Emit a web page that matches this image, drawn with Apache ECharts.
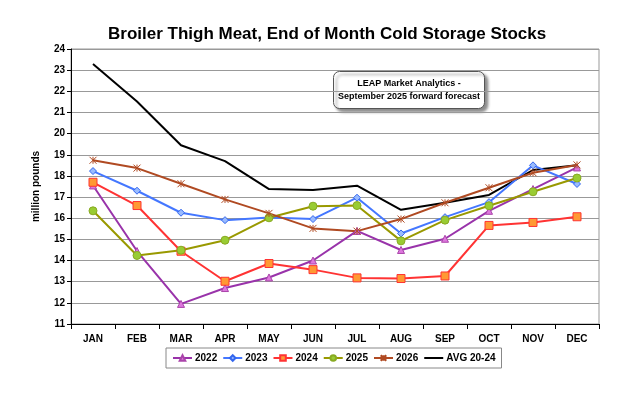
<!DOCTYPE html>
<html><head><meta charset="utf-8">
<script src="https://cdn.jsdelivr.net/npm/echarts@6/dist/echarts.min.js"></script>
<style>html,body{margin:0;padding:0;background:#fff}#c{width:636px;height:394px}</style>
</head><body><div id="c"></div>
<script>
const months = ['JAN','FEB','MAR','APR','MAY','JUN','JUL','AUG','SEP','OCT','NOV','DEC'];
const s2022 = [17.55,14.45,11.95,12.7,13.2,14.0,15.4,14.5,15.03,16.35,17.38,18.4];
const s2023 = [18.23,17.3,16.26,15.91,16.04,15.96,16.97,15.28,16.05,16.76,18.5,17.62];
const s2024 = [17.7,16.6,14.44,13.02,13.86,13.57,13.18,13.15,13.27,15.66,15.8,16.07];
const s2025 = [16.35,14.24,14.49,14.96,16.02,16.57,16.6,14.93,15.91,16.59,17.25,17.9];
const s2026 = [18.74,18.37,17.63,16.89,16.23,15.52,15.39,15.96,16.73,17.44,18.15,18.52];
const avg = [23.29,21.52,19.45,18.7,17.38,17.33,17.54,16.4,16.73,17.1,18.28,18.5];

const F = 'Liberation Sans, Arial, sans-serif';
function mk(name, data, color, symbol, fill, border, size) {
  return {
    name, type:'line', data, symbol, symbolSize:size,
    lineStyle:{color, width:2},
    itemStyle:{color:fill, borderColor:border, borderWidth:1},
    emphasis:{disabled:true}, z: 3
  };
}
const chart = echarts.init(document.getElementById('c'), null, {renderer:'canvas'});
chart.setOption({
  animation:false,
  backgroundColor:'#fff',
  title:{text:'Broiler Thigh Meat, End of Month Cold Storage Stocks', left:103, top:21,
    textStyle:{fontFamily:F, fontSize:17, fontWeight:'bold', color:'#000'}},
  grid:{left:71, right:37, top:49, bottom:70, show:true, borderColor:'#999', borderWidth:1},
  xAxis:{type:'category', data:months, boundaryGap:true,
    axisLine:{lineStyle:{color:'#000'}},
    axisTick:{show:true, alignWithLabel:false, length:5, lineStyle:{color:'#000'}},
    axisLabel:{fontFamily:F, fontSize:10, fontWeight:'bold', color:'#000', margin:10}},
  yAxis:{type:'value', min:11, max:24, interval:1,
    name:'million pounds', nameLocation:'middle', nameGap:30, nameRotate:90,
    nameTextStyle:{fontFamily:F, fontSize:10, fontWeight:'bold', color:'#000'},
    axisLine:{show:true, lineStyle:{color:'#000'}},
    axisTick:{show:true, length:4, lineStyle:{color:'#000'}},
    axisLabel:{fontFamily:F, fontSize:10, fontWeight:'bold', color:'#000', margin:6},
    splitLine:{lineStyle:{color:'#999', width:1}}},
  legend:{bottom:26, left:166, itemWidth:19, itemHeight:7, itemGap:5,
    borderColor:'#888', borderWidth:1, padding:[5,6,5,6],
    textStyle:{fontFamily:F, fontSize:10, fontWeight:'bold', color:'#000', padding:[0,0,0,-2]},
    data:['2022','2023','2024','2025','2026',{name:'AVG 20-24', itemStyle:{opacity:0}}]},
  graphic:[{type:'group', left:333, top:71, children:[
    {type:'rect', shape:{x:0, y:0, width:151, height:37, r:6},
     style:{fill:'#fff', stroke:'#555', lineWidth:1, shadowColor:'rgba(0,0,0,0.45)', shadowBlur:3, shadowOffsetX:3, shadowOffsetY:3}},
    {type:'text', x:75.5, y:18.5, style:{text:'LEAP Market Analytics -\nSeptember 2025 forward forecast',
      fontFamily:F, fontSize:9, fontWeight:'bold', fill:'#000', align:'center', verticalAlign:'middle', lineHeight:13}}
  ]}],
  series:[
    mk('2022', s2022, '#9933AA', 'triangle', '#DD77DD', '#AA44AA', 7),
    mk('2023', s2023, '#4477FF', 'diamond', '#99BBFF', '#3366EE', 7),
    mk('2024', s2024, '#FF3333', 'rect', '#FF9933', '#FF3333', 8),
    mk('2025', s2025, '#999900', 'circle', '#99CC33', '#88AA22', 8),
    mk('2026', s2026, '#B04A22', 'path://M0,0L10,10M10,0L0,10M5,0L5,10', 'rgba(0,0,0,0)', '#B04A22', 7),
    {name:'AVG 20-24', type:'line', data:avg, symbol:'none', showSymbol:false,
     lineStyle:{color:'#000', width:2}, itemStyle:{color:'#000'}, emphasis:{disabled:true}, z:2}
  ]
});
</script></body></html>
